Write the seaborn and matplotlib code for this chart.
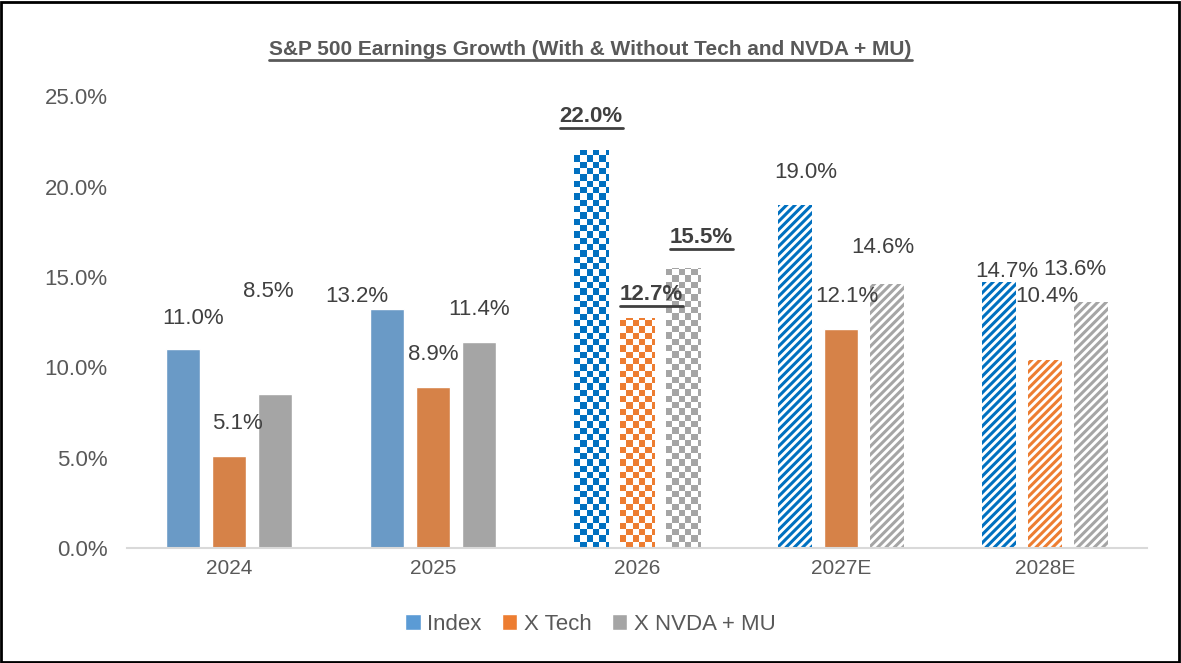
import numpy as np
import pandas as pd
import matplotlib
matplotlib.use("Agg")
import matplotlib.pyplot as plt
from matplotlib.colors import ListedColormap
from matplotlib.lines import Line2D
from matplotlib.patches import Patch, Rectangle
import seaborn as sns

years = ["2024", "2025", "2026", "2027E", "2028E"]
series = ["Index", "X Tech", "X NVDA + MU"]
index_vals = [11.0, 13.2, 22.0, 19.0, 14.7]
xtech_vals = [5.1, 8.9, 12.7, 12.1, 10.4]
xnvda_vals = [8.5, 11.4, 15.5, 14.6, 13.6]
# fill style per bar: solid / checker / stripe
styles = {
    "Index": ["solid", "solid", "checker", "stripe", "stripe"],
    "X Tech": ["solid", "solid", "checker", "solid", "stripe"],
    "X NVDA + MU": ["solid", "solid", "checker", "stripe", "stripe"],
}
# where Excel put the data labels (height, x shift)
label_y = {
    "Index": [12.7, 13.9, 23.9, 20.8, 15.3],
    "X Tech": [6.9, 10.7, 14.0, 13.9, 13.9],
    "X NVDA + MU": [14.2, 13.2, 17.2, 16.6, 15.4],
}
label_dx = {
    "Index": [0.05, -0.15, 0.0, 0.05, 0.04],
    "X Tech": [0.04, 0.0, 0.07, 0.03, 0.01],
    "X NVDA + MU": [-0.03, 0.0, 0.09, -0.02, -0.08],
}
solid_colors = {"Index": "#5B9BD5", "X Tech": "#ED7D31", "X NVDA + MU": "#A5A5A5"}
pattern_colors = {"Index": "#0070C0", "X Tech": "#ED7D31", "X NVDA + MU": "#A5A5A5"}

df = pd.DataFrame({
    "year": years * 3,
    "series": [s for s in series for _ in years],
    "value": index_vals + xtech_vals + xnvda_vals,
})

sns.set_theme(style="white")
plt.rcParams["font.family"] = ["Liberation Sans", "DejaVu Sans"]
plt.rcParams["hatch.linewidth"] = 2.2

fig = plt.figure(figsize=(11.81, 6.63), dpi=100)
ax = fig.add_axes([0.1075, 0.1735, 0.8637, 0.6815])
sns.barplot(data=df, x="year", y="value", hue="series", order=years,
            hue_order=series, palette=solid_colors, width=0.675,
            legend=False, ax=ax)

underlined = []
bar_w = 0.17
for s, cont in zip(series, ax.containers):
    for i, bar in enumerate(cont.patches):
        cx = bar.get_x() + bar.get_width() / 2
        bar.set_x(cx - bar_w / 2)
        bar.set_width(bar_w)
        h = bar.get_height()
        st = styles[s][i]
        col = pattern_colors[s]
        if st == "stripe":
            bar.set_facecolor("white")
            bar.set_edgecolor(col)
            bar.set_hatch("////")
            bar.set_linewidth(0)
        elif st == "checker":
            bar.set_facecolor("none")
            bar.set_linewidth(0)
            ncols = 6
            nrows = int(np.ceil(h / 0.35))
            grid = np.indices((nrows, ncols)).sum(axis=0) % 2
            im = ax.imshow(grid, cmap=ListedColormap(["white", col]),
                           extent=(cx - bar_w / 2, cx - bar_w / 2 + ncols * bar_w / 5.5,
                                   0, nrows * 0.35),
                           origin="lower", aspect="auto", interpolation="nearest",
                           zorder=2)
            im.set_clip_path(bar)
        # data label
        tx = cx + label_dx[s][i]
        ty = label_y[s][i]
        if st == "checker":
            t = ax.text(tx, ty, f"{h:.1f}%", ha="center", va="center",
                        fontsize=16, fontweight="bold", color="#404040", zorder=5)
            underlined.append((t, "#404040"))
        else:
            ax.text(tx, ty, f"{h:.1f}%", ha="center", va="center",
                    fontsize=16, color="#404040", zorder=5)

ax.set_xlim(-0.5, 4.5)
ax.set_ylim(0, 25)
ax.set_yticks(np.arange(0, 26, 5))
ax.set_yticklabels([f"{v:.1f}%" for v in np.arange(0, 26, 5)],
                   fontsize=16, color="#595959")
ax.tick_params(axis="x", labelsize=15, labelcolor="#595959", length=0, pad=8)
ax.tick_params(axis="y", length=0, pad=14)
ax.set_xlabel("")
ax.set_ylabel("")
for side in ["top", "right", "left"]:
    ax.spines[side].set_visible(False)
ax.spines["bottom"].set_color("#D9D9D9")
ax.spines["bottom"].set_linewidth(1.5)

title = fig.text(0.5, 0.925,
                 "S&P 500 Earnings Growth (With & Without Tech and NVDA + MU)",
                 ha="center", va="center", fontsize=15, fontweight="bold",
                 color="#595959")
underlined.append((title, "#595959"))

handles = [Patch(facecolor=solid_colors[s], label=s) for s in series]
fig.legend(handles=handles, loc="center", bbox_to_anchor=(0.5, 0.058), ncol=3,
           frameon=False, fontsize=16, handlelength=0.7, handleheight=0.7,
           handletextpad=0.3, columnspacing=0.9, labelcolor="#595959")

# underline texts from their rendered extents
fig.canvas.draw()
renderer = fig.canvas.get_renderer()
inv = fig.transFigure.inverted()
for t, c in underlined:
    bb = t.get_window_extent(renderer)
    (x0, y0), (x1, _) = inv.transform([(bb.x0, bb.y0 - 1), (bb.x1, bb.y0)])
    fig.add_artist(Line2D([x0, x1], [y0, y0], color=c, linewidth=2, zorder=6))

fig.add_artist(Rectangle((0.001, 0.002), 0.997, 0.995, transform=fig.transFigure,
                         fill=False, edgecolor="black", linewidth=2))

fig.savefig("out.png", dpi=100)
